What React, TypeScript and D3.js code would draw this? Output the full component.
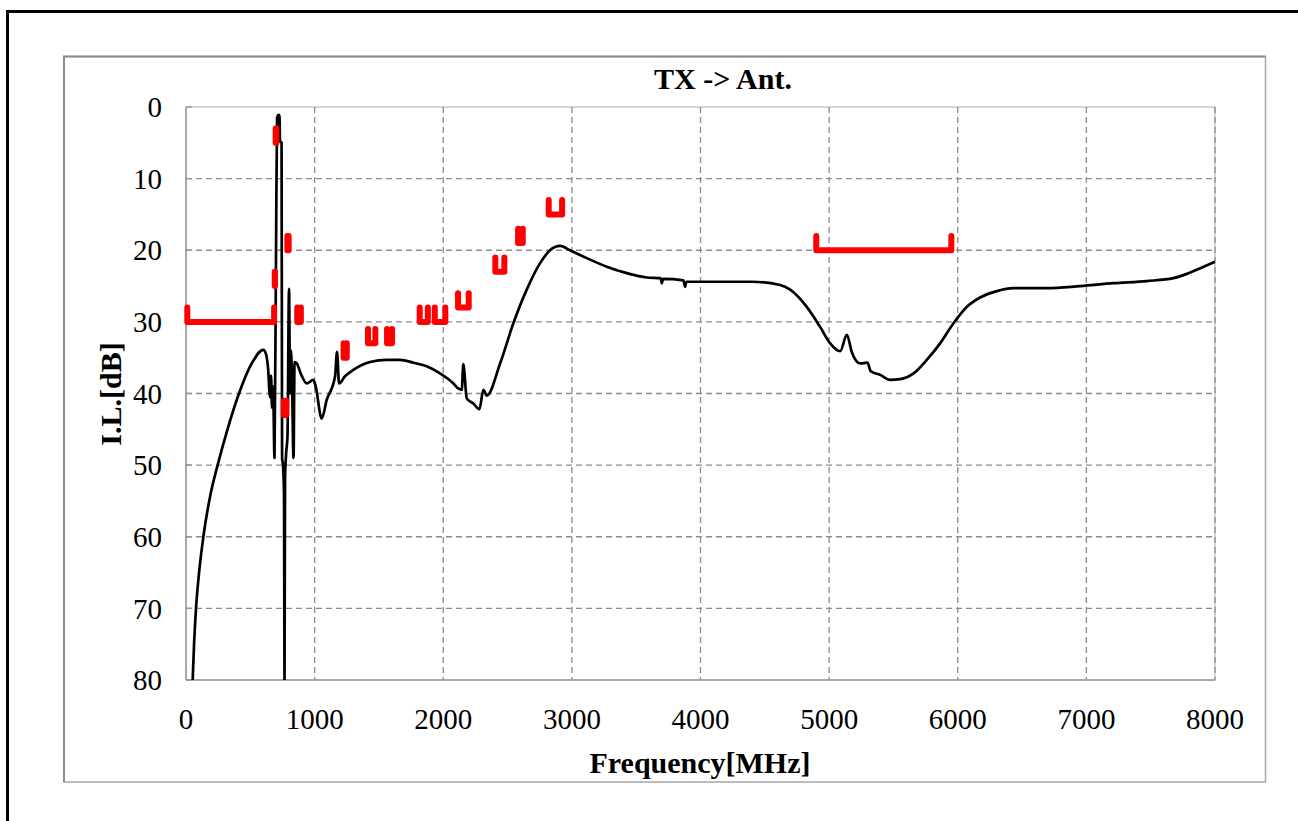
import * as d3 from "d3";

// measured insertion loss, TX -> Ant.
const freqMHz = [
  52, 62, 78, 104, 135, 187, 246, 321, 412, 511, 601, 622, 638, 653, 661, 669, 677,
  688, 700, 708, 720, 727, 731, 743, 747, 754, 762, 766, 770, 778, 789, 801, 809, 816,
  824, 836, 844, 861, 894, 939, 990, 1008, 1055, 1094, 1159, 1174, 1190, 1236, 1301,
  1431, 1561, 1664, 1768, 1872, 1975, 2079, 2117, 2144, 2156, 2183, 2234, 2281, 2312,
  2338, 2442, 2545, 2649, 2753, 2830, 2908, 2986, 3116, 3271, 3427, 3582, 3690, 3699,
  3710, 3867, 3880, 3890, 4230, 4400, 4619, 4697, 4826, 4930, 5008, 5086, 5138, 5176,
  5241, 5298, 5324, 5397, 5474, 5552, 5656, 5759, 5863, 5967, 6071, 6174, 6304, 6433,
  6693, 6952, 7211, 7470, 7677, 7781, 7885, 8000,
];
const ilDb = [
  80, 75.3, 70, 64.6, 60, 54.4, 50, 45.1, 40, 35.8, 33.9, 34.5, 36.5, 40.5, 37.5, 42, 39,
  49, 20, 1.5, 1.1, 1.3, 4.8, 5, 49, 50, 54, 80, 52, 48.5, 46, 25.4, 40, 34,
  38, 49, 35.6, 35.8, 37.3, 38.6, 38.1, 39, 43.5, 40.9, 37.6, 34.2, 38.6, 37.6, 36.7,
  35.6, 35.3, 35.3, 35.7, 36.2, 37.2, 38.6, 39.3, 39.5, 35.9, 40.7, 41.4, 42.2, 39.5,
  40.3, 35.8, 30.2, 25.5, 21.8, 20.0, 19.4, 20.0, 21.1, 22.3, 23.2, 23.8, 23.9, 24.6,
  24.0, 24.2, 25.1, 24.4, 24.4, 24.4, 24.85, 25.5, 27.9, 30.7, 33.0, 34.1, 31.8, 34.2,
  35.8, 35.7, 36.9, 37.4, 38.1, 38.0, 37.2, 35.3, 33.0, 30.2, 27.9, 26.6, 25.7, 25.3,
  25.3, 25.0, 24.6, 24.3, 23.9, 23.3, 22.5, 21.6,
];

// attenuation spec masks (red brackets)
const maskStart = [10, 697, 788, 690, 865, 760, 1225, 1415, 1563, 1817, 1934, 2115, 2405, 2582, 2820, 4900];
const maskEnd = [685, 703, 798, 692, 893, 780, 1250, 1472, 1602, 1880, 2016, 2198, 2475, 2618, 2924, 5950];
const maskLimit = [30, 5, 20, 25, 30, 43, 35, 33, 33, 30, 30, 28, 23, 19, 15, 20];

const xTicks = [0, 1000, 2000, 3000, 4000, 5000, 6000, 7000, 8000];
const yTicks = [0, 10, 20, 30, 40, 50, 60, 70, 80];

const W = 1298;
const H = 821;
const plot = { left: 186, top: 107, right: 1215, bottom: 680 };
const font = "'Liberation Serif', 'Times New Roman', serif";

export default function App() {
  const x = d3.scaleLinear().domain([0, 8000]).range([plot.left, plot.right]);
  const y = d3.scaleLinear().domain([0, 80]).range([plot.top, plot.bottom]);

  const pts = freqMHz.map((f, i) => [f, ilDb[i]] as [number, number]);
  const line = d3
    .line<[number, number]>()
    .x((d) => x(d[0]))
    .y((d) => y(d[1]))
    .curve(d3.curveMonotoneX);

  const masks = maskStart.map((s, i) => {
    const e = maskEnd[i];
    const l = maskLimit[i];
    return `M${x(s)},${y(l - 2)}L${x(s)},${y(l)}L${x(e)},${y(l)}L${x(e)},${y(l - 2)}`;
  });

  return (
    <svg
      width={W}
      height={H}
      style={{ position: "absolute", left: 0, top: 0, background: "#fff" }}
    >
      <defs>
        <clipPath id="plotClip">
          <rect x={plot.left} y={plot.top - 10} width={plot.right - plot.left} height={plot.bottom - plot.top + 10} />
        </clipPath>
      </defs>

      {/* outer frame */}
      <rect x={7.5} y={11.5} width={1300} height={820} fill="none" stroke="#000" strokeWidth={3} />

      {/* chart area box */}
      <rect x={64} y={56.5} width={1201.5} height={725.5} fill="#fff" stroke="#a6a6a6" strokeWidth={1.5} />
      <path d="M64,782V56.5H1265.5" fill="none" stroke="#8c8c8c" strokeWidth={2} />

      {/* plot border */}
      <rect
        x={plot.left}
        y={plot.top}
        width={plot.right - plot.left}
        height={plot.bottom - plot.top}
        fill="none"
        stroke="#c8c8c8"
        strokeWidth={1.5}
      />

      {/* grid */}
      {yTicks.slice(1, -1).map((t) => (
        <line
          key={"gy" + t}
          x1={plot.left}
          x2={plot.right}
          y1={y(t)}
          y2={y(t)}
          stroke="#8c8c8c"
          strokeWidth={1.3}
          strokeDasharray="6,4"
        />
      ))}
      {xTicks.slice(1).map((t) => (
        <line
          key={"gx" + t}
          x1={x(t)}
          x2={x(t)}
          y1={plot.top}
          y2={plot.bottom}
          stroke="#8c8c8c"
          strokeWidth={1.3}
          strokeDasharray="6,4"
        />
      ))}

      {/* axes */}
      <line x1={plot.left} x2={plot.left} y1={plot.top} y2={plot.bottom} stroke="#999" strokeWidth={1.5} />
      <line x1={plot.left} x2={plot.right} y1={plot.bottom} y2={plot.bottom} stroke="#999" strokeWidth={1.5} />
      {yTicks.map((t) => (
        <line key={"ty" + t} x1={plot.left} x2={plot.left + 6} y1={y(t)} y2={y(t)} stroke="#999" strokeWidth={1.5} />
      ))}

      {/* tick labels */}
      {yTicks.map((t) => (
        <text
          key={"ly" + t}
          x={162}
          y={y(t)}
          dy="0.35em"
          textAnchor="end"
          fontFamily={font}
          fontSize={29}
          fill="#000"
        >
          {t}
        </text>
      ))}
      {xTicks.map((t) => (
        <text
          key={"lx" + t}
          x={x(t)}
          y={729}
          textAnchor="middle"
          fontFamily={font}
          fontSize={29}
          fill="#000"
        >
          {t}
        </text>
      ))}

      {/* data */}
      <g clipPath="url(#plotClip)">
        <path d={line(pts) ?? ""} fill="none" stroke="#000" strokeWidth={2.7} strokeLinejoin="round" />
      </g>
      {masks.map((d, i) => (
        <path
          key={"m" + i}
          d={d}
          fill="none"
          stroke="#ff0000"
          strokeWidth={6}
          strokeLinecap="round"
          strokeLinejoin="round"
        />
      ))}

      {/* titles */}
      <text x={723} y={89} textAnchor="middle" fontFamily={font} fontSize={30} fontWeight="bold">
        TX -&gt; Ant.
      </text>
      <text x={700} y={773} textAnchor="middle" fontFamily={font} fontSize={30} fontWeight="bold">
        Frequency[MHz]
      </text>
      <text
        transform="translate(121,394) rotate(-90)"
        textAnchor="middle"
        fontFamily={font}
        fontSize={30}
        fontWeight="bold"
      >
        I.L.[dB]
      </text>
    </svg>
  );
}
